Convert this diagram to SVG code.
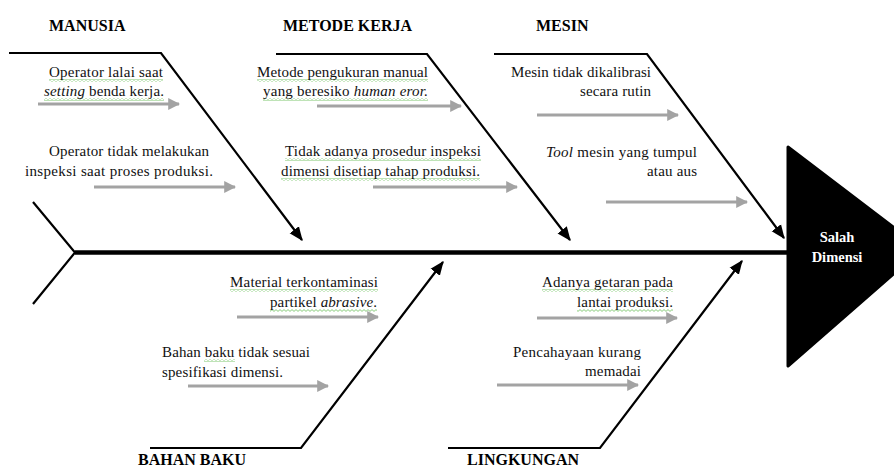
<svg xmlns="http://www.w3.org/2000/svg" width="894" height="470" viewBox="0 0 894 470">
<style>
.h{font-family:"Liberation Serif","Times New Roman",serif;font-weight:bold;font-size:16px;fill:#000}
.t{font-family:"Liberation Serif","Times New Roman",serif;font-size:15px;fill:#111}
.i{font-style:italic}
.br{fill:none;stroke:#000;stroke-width:2.2}
.ga{stroke:#a3a3a3;stroke-width:3;fill:none}
.sq{fill:url(#wave)}
.hd{font-family:"Liberation Serif","Times New Roman",serif;font-weight:bold;font-size:14.5px;fill:#fff}
</style>
<defs>
<marker id="ab" markerUnits="userSpaceOnUse" markerWidth="14" markerHeight="14" viewBox="0 0 12 10" refX="11" refY="5" orient="auto">
<path d="M0,0 L12,5 L0,10 z" fill="#000"/>
</marker>
<marker id="ag" markerUnits="userSpaceOnUse" markerWidth="12" markerHeight="12" viewBox="0 0 10 10" refX="9" refY="5" orient="auto">
<path d="M0,0 L10,5 L0,10 z" fill="#a3a3a3"/>
</marker>
<pattern id="wave" width="4" height="3" patternUnits="userSpaceOnUse">
<path d="M0,0.6 L2,2.4 L4,0.6" fill="none" stroke="#6cbf5a" stroke-width="0.8"/>
</pattern>
</defs>

<g id="connectors">
<line x1="75" y1="252.5" x2="792" y2="252.5" stroke="#000" stroke-width="4.5"/>
<polyline class="br" points="33,202 75,252.5 33,304"/>
<polyline class="br" points="9,53 161,53 302,240" marker-end="url(#ab)"/>
<polyline class="br" points="276,54 427,54 570,240" marker-end="url(#ab)"/>
<polyline class="br" points="494,54 647,54 784,238" marker-end="url(#ab)"/>
<polyline class="br" points="150,448 301,448 443,262" marker-end="url(#ab)"/>
<polyline class="br" points="448,448 600,448 742,261" marker-end="url(#ab)"/>
<line class="ga" x1="38" y1="104" x2="179" y2="104" marker-end="url(#ag)"/>
<line class="ga" x1="94" y1="187" x2="235" y2="187" marker-end="url(#ag)"/>
<line class="ga" x1="317" y1="106" x2="461" y2="106" marker-end="url(#ag)"/>
<line class="ga" x1="373" y1="187" x2="517" y2="187" marker-end="url(#ag)"/>
<line class="ga" x1="537" y1="115" x2="678" y2="115" marker-end="url(#ag)"/>
<line class="ga" x1="606" y1="202" x2="747" y2="202" marker-end="url(#ag)"/>
<line class="ga" x1="237" y1="317" x2="378" y2="317" marker-end="url(#ag)"/>
<line class="ga" x1="188" y1="386" x2="328" y2="386" marker-end="url(#ag)"/>
<line class="ga" x1="537" y1="318" x2="677" y2="318" marker-end="url(#ag)"/>
<line class="ga" x1="497" y1="385" x2="638" y2="385" marker-end="url(#ag)"/>
</g>

<g id="head">
<polygon points="788,147 922,249 788,366" fill="#000" stroke="#000" stroke-width="3" stroke-linejoin="round"/>
<text class="hd" x="837" y="242" text-anchor="middle">Salah</text>
<text class="hd" x="837" y="262" text-anchor="middle">Dimensi</text>
</g>

<g id="manusia">
<text class="h" x="49" y="31">MANUSIA</text>
<rect class="sq" x="49" y="79" width="114" height="3"/>
<text class="t" x="49" y="77" textLength="114">Operator lalai  saat</text>
<rect class="sq" x="44" y="98" width="120" height="3"/>
<text class="t" x="44" y="96" textLength="120"><tspan class="i">setting</tspan> benda kerja.</text>
<text class="t" x="49" y="156" textLength="160">Operator tidak melakukan</text>
<text class="t" x="25" y="176" textLength="188">inspeksi saat proses produksi.</text>
</g>

<g id="metode-kerja">
<text class="h" x="283" y="31">METODE KERJA</text>
<rect class="sq" x="257" y="79" width="171" height="3"/>
<text class="t" x="257" y="77" textLength="171">Metode pengukuran manual</text>
<rect class="sq" x="263" y="98" width="165" height="3"/>
<text class="t" x="263" y="96" textLength="165">yang beresiko <tspan class="i">human eror.</tspan></text>
<rect class="sq" x="285" y="158" width="196" height="3"/>
<text class="t" x="285" y="156" textLength="196">Tidak adanya prosedur inspeksi</text>
<rect class="sq" x="281" y="178" width="199" height="3"/>
<text class="t" x="281" y="176" textLength="199">dimensi  disetiap tahap produksi.</text>
</g>

<g id="mesin">
<text class="h" x="536" y="31">MESIN</text>
<text class="t" x="511" y="77" textLength="140">Mesin tidak dikalibrasi</text>
<text class="t" x="580" y="96" textLength="71">secara rutin</text>
<text class="t" x="546" y="157" textLength="151"><tspan class="i">Tool</tspan> mesin  yang tumpul</text>
<text class="t" x="647" y="176" textLength="50">atau aus</text>
</g>

<g id="bahan-baku">
<text class="h" x="138" y="465">BAHAN BAKU</text>
<rect class="sq" x="230" y="289" width="148" height="3"/>
<text class="t" x="230" y="287" textLength="148">Material terkontaminasi</text>
<rect class="sq" x="270" y="309" width="107" height="3"/>
<text class="t" x="270" y="307" textLength="107">partikel <tspan class="i">abrasive</tspan>.</text>
<rect class="sq" x="204" y="359" width="31" height="3"/>
<text class="t" x="162" y="357" textLength="148">Bahan baku tidak sesuai</text>
<text class="t" x="162" y="377" textLength="121">spesifikasi  dimensi.</text>
</g>

<g id="lingkungan">
<text class="h" x="467" y="465">LINGKUNGAN</text>
<rect class="sq" x="542" y="289" width="131" height="3"/>
<text class="t" x="542" y="287" textLength="131">Adanya getaran pada</text>
<rect class="sq" x="577" y="309" width="96" height="3"/>
<text class="t" x="577" y="307" textLength="96">lantai produksi.</text>
<text class="t" x="513" y="357" textLength="128">Pencahayaan kurang</text>
<text class="t" x="585" y="376" textLength="56">memadai</text>
</g>
</svg>
